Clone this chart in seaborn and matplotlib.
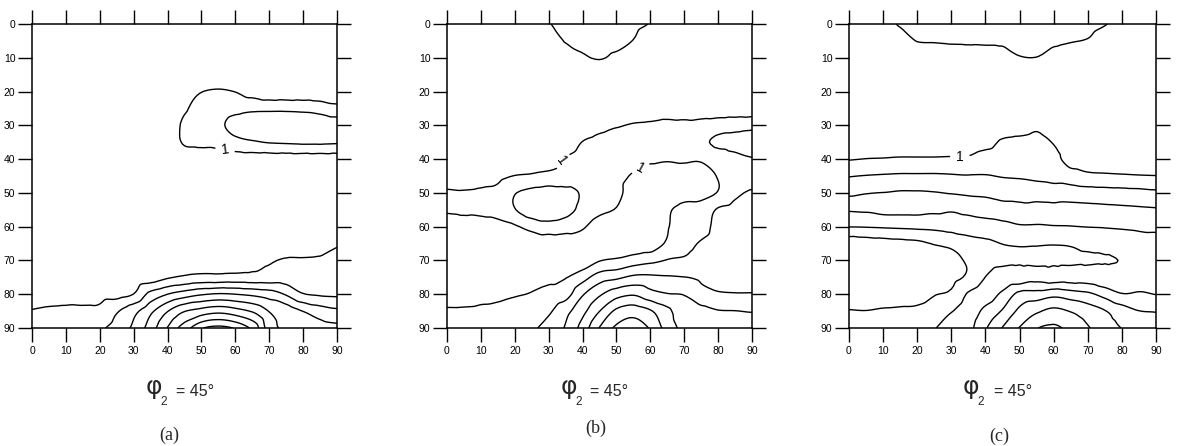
import numpy as np
import matplotlib
matplotlib.use("Agg")
import matplotlib.pyplot as plt
import matplotlib.tri as mtri
import seaborn as sns

# ---------------- data ----------------
phi1 = [0, 5, 10, 15, 20, 25, 30, 35, 40, 45, 50, 55, 60, 65, 70, 75, 80, 85, 90]
Phi = [0, 5, 10, 15, 20, 25, 30, 35, 40, 45, 50, 55, 60, 65, 70, 75, 80, 85, 90]
ticks = [0, 10, 20, 30, 40, 50, 60, 70, 80, 90]
panel_tags = ["(a)", "(b)", "(c)"]
section_label = "= 45°"

# ODF intensity, rows = Phi (0..90), columns = phi1 (0..90)
odf_a = [
    [0.3, 0.3, 0.3, 0.3, 0.3, 0.3, 0.3, 0.3, 0.3, 0.3, 0.3, 0.3, 0.3, 0.3, 0.3, 0.3, 0.3, 0.3, 0.3],
    [0.3, 0.3, 0.3, 0.3, 0.3, 0.3, 0.3, 0.3, 0.3, 0.3, 0.3, 0.3, 0.3, 0.3, 0.3, 0.3, 0.3, 0.3, 0.3],
    [0.3, 0.3, 0.3, 0.3, 0.3, 0.3, 0.3, 0.3, 0.3, 0.3, 0.3, 0.3, 0.3, 0.3, 0.3, 0.3, 0.3, 0.3, 0.3],
    [0.3, 0.3, 0.3, 0.3, 0.3, 0.3, 0.3, 0.3, 0.3, 0.3, 0.3, 0.3, 0.3, 0.3, 0.3, 0.3, 0.3, 0.3, 0.3],
    [0.3, 0.3, 0.3, 0.3, 0.3, 0.3, 0.3, 0.3, 0.3, 0.6, 0.98, 1.1, 0.98, 0.6, 0.3, 0.3, 0.3, 0.3, 0.3],
    [0.3, 0.3, 0.3, 0.3, 0.3, 0.3, 0.3, 0.3, 0.4, 0.9, 1.3, 1.5, 1.7, 1.8, 1.8, 1.8, 1.75, 1.6, 1.3],
    [0.3, 0.3, 0.3, 0.3, 0.3, 0.3, 0.3, 0.3, 0.5, 1.15, 1.4, 1.8, 2.3, 2.5, 2.6, 2.6, 2.6, 2.55, 2.5],
    [0.3, 0.3, 0.3, 0.3, 0.3, 0.3, 0.3, 0.3, 0.45, 1.1, 1.2, 1.3, 1.7, 1.9, 2.05, 2.1, 2.15, 2.15, 2.1],
    [0.3, 0.3, 0.3, 0.3, 0.3, 0.3, 0.3, 0.3, 0.3, 0.5, 0.5, 0.5, 0.5, 0.5, 0.5, 0.5, 0.5, 0.5, 0.5],
    [0.3, 0.3, 0.3, 0.3, 0.3, 0.3, 0.3, 0.3, 0.3, 0.3, 0.3, 0.3, 0.3, 0.3, 0.3, 0.3, 0.3, 0.3, 0.3],
    [0.3, 0.3, 0.3, 0.3, 0.3, 0.3, 0.3, 0.3, 0.3, 0.3, 0.3, 0.3, 0.3, 0.3, 0.3, 0.3, 0.3, 0.3, 0.3],
    [0.3, 0.3, 0.3, 0.3, 0.3, 0.3, 0.3, 0.3, 0.3, 0.3, 0.3, 0.3, 0.3, 0.3, 0.3, 0.3, 0.3, 0.3, 0.3],
    [0.3, 0.3, 0.3, 0.3, 0.3, 0.3, 0.3, 0.3, 0.3, 0.3, 0.3, 0.3, 0.3, 0.3, 0.3, 0.3, 0.3, 0.3, 0.3],
    [0.3, 0.3, 0.3, 0.3, 0.3, 0.3, 0.3, 0.3, 0.3, 0.3, 0.3, 0.3, 0.3, 0.3, 0.3, 0.3, 0.5, 0.55, 0.9],
    [0.35, 0.35, 0.35, 0.35, 0.35, 0.35, 0.35, 0.35, 0.35, 0.5, 0.5, 0.5, 0.5, 0.7, 0.9, 1.1, 1.1, 1.15, 1.3],
    [0.5, 0.5, 0.5, 0.5, 0.5, 0.5, 0.45, 0.5, 0.9, 1.15, 1.3, 1.3, 1.35, 1.35, 1.4, 1.5, 1.6, 1.65, 1.6],
    [0.7, 0.72, 0.72, 0.75, 0.75, 0.7, 1.02, 2.3, 3.0, 3.5, 3.9, 4.1, 4.0, 3.8, 3.5, 2.9, 2.05, 1.9, 1.85],
    [1.03, 1.1, 1.15, 1.15, 1.2, 1.9, 2.7, 3.77, 4.95, 5.95, 6.4, 6.7, 6.4, 5.9, 4.95, 4.6, 3.98, 3.5, 3.2],
    [1.3, 1.4, 1.5, 1.65, 1.85, 2.4, 3.2, 4.5, 6.05, 7.5, 8.9, 9.3, 8.9, 7.8, 5.5, 4.8, 4.5, 4.4, 4.3],
]

odf_b = [
    [0.5, 0.5, 0.5, 0.5, 0.5, 0.5, 0.95, 1.3, 1.45, 1.5, 1.45, 1.25, 0.95, 0.5, 0.5, 0.5, 0.5, 0.5, 0.5],
    [0.5, 0.5, 0.5, 0.5, 0.5, 0.5, 0.5, 1.05, 1.2, 1.3, 1.25, 0.97, 0.5, 0.5, 0.5, 0.5, 0.5, 0.5, 0.5],
    [0.5, 0.5, 0.5, 0.5, 0.5, 0.5, 0.5, 0.5, 0.9, 1.05, 0.85, 0.5, 0.5, 0.5, 0.5, 0.5, 0.5, 0.5, 0.5],
    [0.5, 0.5, 0.5, 0.5, 0.5, 0.5, 0.5, 0.5, 0.5, 0.5, 0.5, 0.5, 0.5, 0.5, 0.5, 0.5, 0.5, 0.5, 0.5],
    [0.5, 0.5, 0.5, 0.5, 0.5, 0.5, 0.5, 0.5, 0.5, 0.5, 0.5, 0.5, 0.5, 0.5, 0.5, 0.5, 0.5, 0.5, 0.5],
    [0.6, 0.6, 0.6, 0.6, 0.6, 0.6, 0.6, 0.6, 0.6, 0.6, 0.6, 0.6, 0.6, 0.6, 0.6, 0.45, 0.45, 0.45, 0.45],
    [0.5, 0.5, 0.5, 0.5, 0.5, 0.5, 0.5, 0.5, 0.6, 0.8, 0.95, 1.05, 1.1, 1.2, 1.2, 1.35, 1.5, 1.6, 1.7],
    [0.5, 0.5, 0.5, 0.5, 0.5, 0.5, 0.5, 0.6, 1.02, 1.2, 1.3, 1.3, 1.3, 1.4, 1.5, 1.8, 2.2, 2.35, 2.5],
    [0.5, 0.5, 0.5, 0.55, 0.6, 0.65, 0.75, 1.05, 1.3, 1.3, 1.35, 1.3, 1.1, 1.05, 1.1, 1.1, 1.4, 1.7, 1.95],
    [0.6, 0.65, 0.7, 0.8, 1.02, 1.1, 1.2, 1.3, 1.5, 1.45, 1.3, 0.9, 0.7, 0.75, 0.7, 0.65, 1.05, 1.5, 1.6],
    [1.08, 1.05, 1.1, 1.2, 1.95, 2.3, 2.5, 2.3, 1.9, 1.5, 1.3, 0.5, 0.5, 0.6, 0.75, 0.75, 1.05, 1.8, 2.1],
    [1.06, 1.1, 1.15, 1.3, 1.95, 2.6, 2.7, 2.4, 1.7, 1.2, 0.95, 0.45, 0.45, 0.9, 1.2, 1.35, 2.1, 2.3, 2.3],
    [0.7, 0.75, 0.7, 0.75, 0.9, 1.3, 1.6, 1.4, 1.1, 0.6, 0.5, 0.5, 0.55, 0.95, 1.3, 1.6, 2.3, 2.4, 2.4],
    [0.65, 0.65, 0.6, 0.55, 0.55, 0.5, 0.4, 0.5, 0.6, 0.4, 0.35, 0.3, 0.35, 1.15, 1.65, 2.1, 2.4, 2.45, 2.45],
    [0.65, 0.65, 0.6, 0.6, 0.6, 0.6, 0.6, 0.6, 0.4, 0.95, 1.15, 1.5, 1.77, 2.05, 2.15, 2.4, 2.5, 2.5, 2.5],
    [0.7, 0.7, 0.7, 0.7, 0.75, 0.75, 0.8, 0.95, 1.6, 2.5, 2.8, 3.2, 3.2, 3.1, 3.02, 2.85, 2.7, 2.7, 2.7],
    [0.8, 0.8, 0.85, 0.85, 0.95, 1.05, 1.3, 1.6, 2.9, 3.85, 4.6, 4.9, 4.35, 4.05, 3.95, 3.3, 3.1, 3.05, 3.05],
    [1.05, 1.06, 1.1, 1.2, 1.3, 1.45, 1.85, 2.7, 3.7, 4.98, 6.2, 6.55, 6.1, 5.24, 4.3, 4.3, 4.05, 4.02, 3.95],
    [1.2, 1.25, 1.3, 1.5, 1.7, 1.85, 2.4, 3.1, 4.4, 6.05, 7.2, 7.6, 6.9, 5.6, 4.7, 4.6, 4.5, 4.5, 4.5],
]

odf_c = [
    [0.5, 0.5, 0.7, 1.1, 1.3, 1.3, 1.3, 1.35, 1.35, 1.4, 1.5, 1.5, 1.4, 1.35, 1.3, 1.05, 0.7, 0.5, 0.5],
    [0.5, 0.5, 0.5, 0.6, 1.02, 1.05, 1.1, 1.13, 1.15, 1.2, 1.4, 1.4, 1.2, 1.05, 0.95, 0.6, 0.5, 0.5, 0.5],
    [0.5, 0.5, 0.5, 0.5, 0.5, 0.5, 0.5, 0.5, 0.5, 0.5, 0.95, 0.98, 0.6, 0.5, 0.5, 0.5, 0.5, 0.5, 0.5],
    [0.5, 0.5, 0.5, 0.5, 0.5, 0.5, 0.5, 0.5, 0.5, 0.5, 0.5, 0.5, 0.5, 0.5, 0.5, 0.5, 0.5, 0.5, 0.5],
    [0.5, 0.5, 0.5, 0.5, 0.5, 0.5, 0.5, 0.5, 0.5, 0.5, 0.5, 0.5, 0.5, 0.5, 0.5, 0.5, 0.5, 0.5, 0.5],
    [0.5, 0.5, 0.5, 0.5, 0.5, 0.5, 0.5, 0.5, 0.5, 0.5, 0.5, 0.5, 0.5, 0.5, 0.5, 0.5, 0.5, 0.5, 0.5],
    [0.5, 0.5, 0.5, 0.5, 0.5, 0.5, 0.5, 0.5, 0.5, 0.6, 0.65, 0.85, 0.6, 0.5, 0.5, 0.5, 0.5, 0.5, 0.5],
    [0.5, 0.5, 0.5, 0.5, 0.5, 0.5, 0.5, 0.5, 0.7, 1.1, 1.2, 1.25, 0.95, 0.5, 0.5, 0.5, 0.5, 0.5, 0.5],
    [0.95, 1.02, 1.05, 1.1, 1.1, 1.1, 1.12, 1.15, 1.45, 1.5, 1.5, 1.4, 1.3, 0.6, 0.55, 0.5, 0.5, 0.5, 0.5],
    [1.95, 2.04, 2.1, 2.15, 2.15, 2.15, 2.1, 2.05, 2.05, 1.95, 1.9, 1.8, 1.7, 1.44, 1.2, 1.15, 1.1, 1.05, 1.02],
    [2.8, 2.95, 3.02, 3.1, 3.1, 3.05, 2.95, 2.85, 2.8, 2.65, 2.65, 2.55, 2.45, 2.53, 2.45, 2.4, 2.35, 2.3, 2.2],
    [3.9, 3.85, 3.7, 3.7, 3.7, 3.8, 3.9, 3.75, 3.6, 3.4, 3.3, 3.4, 3.37, 3.34, 3.3, 3.25, 3.2, 3.15, 3.1],
    [4.98, 4.95, 4.9, 4.85, 4.8, 4.75, 4.6, 4.5, 4.4, 4.3, 4.1, 4.1, 4.05, 4.03, 3.98, 3.95, 3.9, 3.85, 3.85],
    [6.6, 6.5, 6.4, 6.3, 6.2, 5.95, 5.8, 5.4, 5.2, 4.98, 4.9, 4.92, 4.95, 4.9, 4.7, 4.55, 4.5, 4.3, 4.2],
    [6.8, 6.8, 6.8, 6.75, 6.6, 6.3, 6.2, 5.9, 5.6, 5.3, 5.2, 5.2, 5.25, 5.2, 5.15, 5.1, 4.95, 4.5, 4.4],
    [6.9, 6.9, 6.85, 6.8, 6.65, 6.35, 6.25, 5.85, 4.98, 4.4, 4.4, 4.7, 4.5, 4.55, 4.55, 4.3, 4.6, 4.6, 4.6],
    [6.6, 6.6, 6.55, 6.5, 6.4, 6.05, 5.85, 4.9, 4.6, 5.2, 6.27, 6.4, 6.7, 6.45, 6.2, 5.65, 5.05, 5.1, 4.98],
    [5.95, 5.98, 5.9, 5.85, 5.8, 5.5, 5.05, 4.6, 5.25, 6.1, 7.23, 7.85, 8.25, 7.95, 7.5, 7.05, 6.5, 6.02, 5.95],
    [5.6, 5.65, 5.6, 5.55, 5.5, 5.05, 4.6, 4.7, 5.9, 7.05, 8.05, 8.95, 9.2, 8.7, 8.1, 7.4, 6.98, 6.6, 6.4],
]

levels_a = [1, 2, 3, 4, 5, 6, 7, 8, 9]
levels_b = [1, 2, 3, 4, 5, 6, 7]
levels_c = [1, 2, 3, 4, 5, 6, 7, 8, 9]

# where the "1" labels sit (phi1, Phi)
label_pos_a = [(57, 37)]
label_pos_b = [(34, 40.5), (57, 42.5)]
label_pos_c = [(32.5, 38.8)]

# ---------------- styling / layout ----------------
sns.set_style("ticks")
plt.rcParams["font.family"] = ["Liberation Sans", "DejaVu Sans"]

W, H = 1177, 446
fig = plt.figure(figsize=(W / 100, H / 100), dpi=100)

panels = [
    dict(z=odf_a, lev=levels_a, lab=label_pos_a, x=(32, 337), phi_x=146, eq_x=176, tag_x=169, tag_y=435),
    dict(z=odf_b, lev=levels_b, lab=label_pos_b, x=(447, 752), phi_x=561, eq_x=590, tag_x=596, tag_y=428),
    dict(z=odf_c, lev=levels_c, lab=label_pos_c, x=(849, 1156), phi_x=963, eq_x=994, tag_x=999, tag_y=436),
]
top_px, bot_px = 24, 328

gx, gy = np.meshgrid(phi1, Phi)
triang = mtri.Triangulation(gx.ravel(), gy.ravel())
refiner = mtri.UniformTriRefiner(triang)

for p, tag in zip(panels, panel_tags):
    l, r = p["x"]
    ax = fig.add_axes([l / W, 1 - bot_px / H, (r - l) / W, (bot_px - top_px) / H])
    z = np.array(p["z"], dtype=float).ravel()
    interp = mtri.CubicTriInterpolator(triang, z, kind="geom")
    tri_f, z_f = refiner.refine_field(z, triinterpolator=interp, subdiv=3)
    cs = ax.tricontour(tri_f, z_f, levels=p["lev"], colors="black", linewidths=1.0)
    ax.clabel(cs, levels=[1], manual=p["lab"], fmt="%d", fontsize=10,
              inline=True, inline_spacing=6)
    ax.set_xlim(0, 90)
    ax.set_ylim(90, 0)
    ax.set_xticks(ticks)
    ax.set_yticks(ticks)
    ax.set_xticklabels([str(t) for t in ticks])
    ax.set_yticklabels([str(t) for t in ticks])
    ax.tick_params(direction="out", length=10, width=1.0, top=True, right=True,
                   labeltop=False, labelright=False, labelsize=7.5, colors="black")
    ax.tick_params(axis="x", pad=3)
    ax.tick_params(axis="y", pad=2)
    for s in ax.spines.values():
        s.set_linewidth(1.1)
        s.set_color("black")
    ax.set_facecolor("white")

    # phi_2 = 45 deg label
    fig.text(p["phi_x"] / W, 1 - 394 / H, "φ", fontsize=18, family="DejaVu Sans",
             ha="left", va="baseline")
    fig.text((p["phi_x"] + 14) / W, 1 - 405 / H, "2", fontsize=8.5, ha="left", va="baseline")
    fig.text(p["eq_x"] / W, 1 - 396 / H, section_label, fontsize=11.5, ha="left", va="baseline")
    fig.text(p["tag_x"] / W, 1 - p["tag_y"] / H, tag, fontsize=13, family="Liberation Serif",
             ha="center", va="center")

fig.savefig("out.png", dpi=100, facecolor="white")
